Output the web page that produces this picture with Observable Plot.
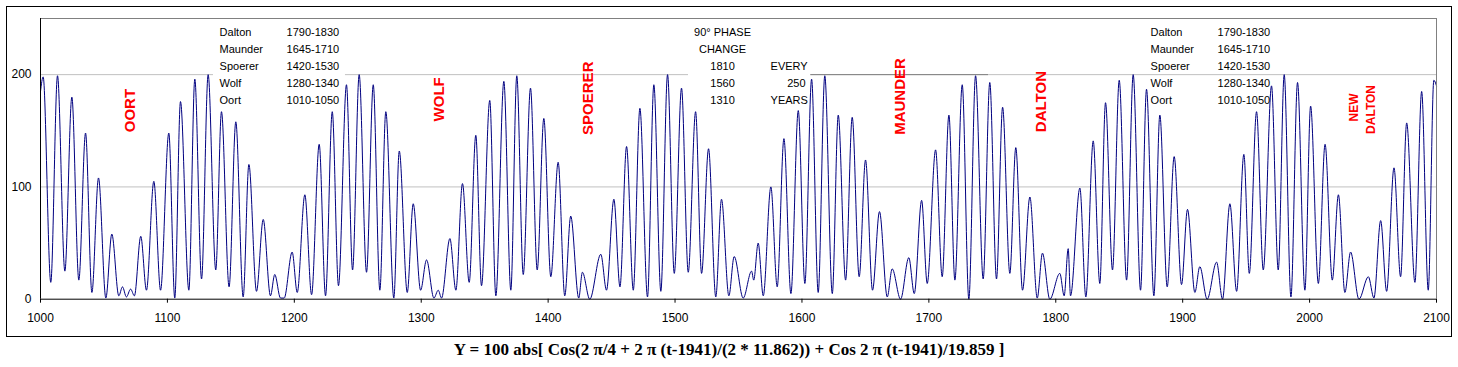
<!DOCTYPE html>
<html>
<head>
<meta charset="utf-8">
<script src="https://cdn.jsdelivr.net/npm/d3@7"></script>
<script src="https://cdn.jsdelivr.net/npm/@observablehq/plot@0.6"></script>
<style>
  html, body { margin: 0; padding: 0; background: white; }
  #wrap { position: relative; width: 1458px; height: 367px; }
  #frame { position: absolute; left: 6px; top: 6px; width: 1446px; height: 331px; border: 1px solid #000; box-sizing: border-box; pointer-events: none; }
  #caption { position: absolute; left: 0; top: 340px; width: 1458px; text-align: center; white-space: pre;
    font: bold 17px "Liberation Serif", "Times New Roman", serif; color: #000; }
  #chart { position: absolute; left: 0; top: 0; }
</style>
</head>
<body>
<div id="wrap">
  <div id="chart"></div>
  <div id="frame"></div>
  <div id="caption">Y = 100 abs[ Cos(2 π/4 + 2 π (t-1941)/(2 * 11.862)) + Cos 2 π (t-1941)/19.859 ]</div>
</div>
<script>
// Values (peaks and troughs of each lobe)
const years = [
  1000,1002.1,1008.1,1013.4,1019.2,1024.7,1030.2,1035.5,1040.5,1045.7,1051.5,1056.2,1061.7,1064.6,1067.7,1071,1074,
  1079,1083.5,1089.3,1094.6,1101.1,1105.8,1110.3,1116.9,1121.6,1126.9,1132.1,1138.1,1142.6,1148.6,1153.9,1159.7,
  1164.2,1170.2,1175.5,1181.2,1184.6,1189.1,1192,1198.3,1202.3,1208.3,1213.6,1219.6,1224.6,1229.9,1234.8,1241.1,
  1245.9,1251.1,1256.9,1262.2,1267.4,1272.1,1278.4,1282.7,1289,1293.7,1299.5,1304.2,1310,1313.4,1316,1322.6,1327.3,
  1332.5,1337.8,1343,1347.5,1354,1358.8,1365.1,1370.6,1375.3,1380.4,1386.1,1391.4,1396.6,1402.1,1407.9,1413.1,
  1417.8,1424.1,1427,1432.8,1441.5,1446,1451.8,1456.6,1461.8,1467.1,1472.3,1478.3,1483.3,1488.8,1494.1,1499.4,
  1505.1,1510.4,1516.2,1520.9,1526.4,1532.1,1536.6,1542.4,1546.6,1553.7,1560.3,1562,1565.5,1569.5,1575.5,1580.5,
  1585.8,1591.3,1597.1,1602.3,1607.6,1612.8,1618,1623.9,1628.6,1634.4,1639.6,1645.1,1650.1,1655.6,1661.1,1667.2,
  1671.1,1677.7,1684.2,1688.5,1694.3,1698.7,1705.3,1710.5,1715.8,1720.5,1726.3,1731.5,1736.8,1742.8,1748,1753.3,
  1758.1,1763.8,1768.5,1773.8,1779.6,1785.4,1789.5,1795.3,1803.2,1806.6,1809.8,1811.6,1819,1823.7,1829.5,1834.7,
  1839.2,1844.7,1850,1855.8,1861,1866.8,1871.5,1877.3,1882,1887.8,1893.3,1899.1,1903.8,1909.6,1913.5,1919.3,
  1926.7,1931.4,1937.2,1942.5,1948.2,1952.5,1958.2,1963.5,1970,1975.3,1980,1985.3,1990.5,1996.3,2000.8,2006.9,
  2012.2,2017.9,2022.7,2027.8,2032.3,2038.9,2046.3,2050.7,2056,2060.7,2066.5,2071.7,2076.5,2083,2088.3,2093.5,
  2097.9,2100
];
const values = [
  185,198,15,199,25,180,17,148,6,108,1,58,3,11,2,9,3,
  56,8,105,8,148,1,176,8,196,18,200,26,167,11,158,2,
  120,7,71,3,22,1,1,42,6,93,4,138,3,167,12,191,
  26,200,24,191,8,167,1,132,6,85,8,35,1,8,1,54,8,
  103,15,146,12,177,3,194,8,199,22,188,26,161,20,122,3,
  74,1,24,0,40,8,89,11,136,8,170,2,191,7,200,23,
  188,24,167,23,134,2,89,3,38,1,25,17,50,3,100,11,
  143,5,168,14,196,6,199,5,164,17,162,20,124,8,78,2,
  27,0,37,5,88,14,133,20,164,17,191,0,199,18,193,18,
  171,23,135,8,91,1,41,0,23,3,45,3,99,2,141,14,
  175,26,195,17,200,8,187,3,164,11,127,13,80,6,29,0,
  33,0,85,7,129,23,167,26,190,26,200,2,193,8,172,14,
  138,17,93,6,42,0,20,1,70,7,117,20,157,15,185,8,
  195,190
];
const series = years.map((t, i) => ({t, y: values[i]}));

const xTicks = [1000,1100,1200,1300,1400,1500,1600,1700,1800,1900,2000,2100];
const yTicks = [0, 100, 200];
const gridValues = [100, 200];

const tableNames = ["Dalton", "Maunder", "Spoerer", "Wolf", "Oort"];
const tablePeriods = ["1790-1830", "1645-1710", "1420-1530", "1280-1340", "1010-1050"];
const tableRowY = [237.9, 222.7, 207.5, 192.3, 177.1];

const phaseLeft = ["90° PHASE", "CHANGE", "1810", "1560", "1310"];
const phaseRight = ["EVERY", "250", "YEARS"];

const minimaLabels = [
  {label: "OORT", t: 1070.9, y: 168, size: 15},
  {label: "WOLF", t: 1314.4, y: 178, size: 15},
  {label: "SPOERER", t: 1431.8, y: 179, size: 15},
  {label: "MAUNDER", t: 1677.7, y: 180.5, size: 15},
  {label: "DALTON", t: 1788.8, y: 176, size: 15},
  {label: "NEW", t: 2035.5, y: 170.7, size: 12},
  {label: "DALTON", t: 2048.9, y: 169, size: 12}
];

const tableRows = tableNames.map((n, i) => ({n, p: tablePeriods[i], y: tableRowY[i]}));
const txt = {fontSize: 11, fill: "#000"};

const chart = Plot.plot({
  width: 1458,
  height: 340,
  marginLeft: 40,
  marginRight: 22,
  marginTop: 18,
  marginBottom: 41.3,
  x: {domain: [1000, 2100], label: null},
  y: {domain: [0, 250], label: null},
  style: {fontFamily: "'Liberation Sans', Arial, sans-serif", fontSize: "12px", background: "white", color: "#000", overflow: "visible"},
  marks: [
    Plot.ruleY(gridValues, {stroke: "#c0c0c0", strokeWidth: 1}),
    Plot.ruleY([200], {x1: 1607, x2: 1747, stroke: "#808080", strokeWidth: 1}),
    Plot.rect([0], {x1: 1136.3, x2: 1240.3, y1: 171, y2: 245, fill: "white"}),
    Plot.rect([0], {x1: 1510.6, x2: 1606.8, y1: 171, y2: 245, fill: "white"}),
    Plot.line(series, {x: "t", y: "y", stroke: "#000080", strokeWidth: 1, curve: "monotone-x"}),
    Plot.ruleY([250], {stroke: "#808080"}),
    Plot.ruleX([2100], {stroke: "#808080"}),
    Plot.ruleX([1000], {stroke: "#000"}),
    Plot.ruleY([0], {stroke: "#000"}),
    Plot.axisX({ticks: xTicks, tickFormat: d => String(d), tickSize: 4, tickPadding: 10, fontSize: 12, label: null}),
    Plot.axisY({ticks: yTicks, tickFormat: d => String(d), tickSize: 0, tickPadding: 9, fontSize: 12, label: null}),
    Plot.text(tableRows, {x: 1141.1, y: "y", text: "n", textAnchor: "start", ...txt}),
    Plot.text(tableRows, {x: 1193.9, y: "y", text: "p", textAnchor: "start", ...txt}),
    Plot.text(tableRows, {x: 1874.7, y: "y", text: "n", textAnchor: "start", ...txt}),
    Plot.text(tableRows, {x: 1927.5, y: "y", text: "p", textAnchor: "start", ...txt}),
    Plot.text(phaseLeft, {x: 1537.4, y: (d, i) => tableRowY[i], text: d => d, textAnchor: "middle", ...txt}),
    Plot.text([phaseRight[0]], {x: 1575.3, y: tableRowY[2], text: d => d, textAnchor: "start", ...txt}),
    Plot.text([phaseRight[1]], {x: 1602.8, y: tableRowY[3], text: d => d, textAnchor: "end", ...txt}),
    Plot.text([phaseRight[2]], {x: 1575.3, y: tableRowY[4], text: d => d, textAnchor: "start", ...txt}),
    Plot.text(minimaLabels, {x: "t", y: "y", text: "label", rotate: -90, fill: "#ff0000", fontWeight: "bold", fontSize: d => d.size})
  ]
});
document.getElementById("chart").appendChild(chart);
</script>
</body>
</html>
